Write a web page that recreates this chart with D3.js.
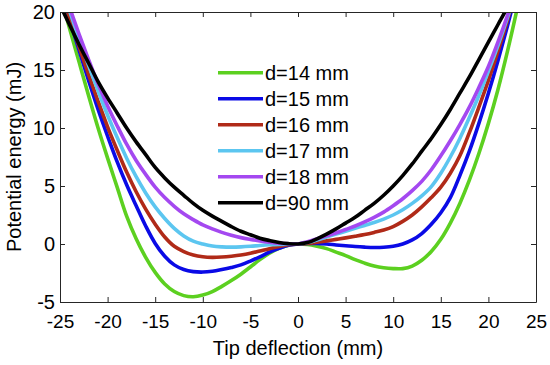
<!DOCTYPE html>
<html><head><meta charset="utf-8">
<script src="https://cdn.jsdelivr.net/npm/d3@7"></script>
<style>
body{margin:0;background:#fff}
svg{display:block}
text{font-family:"Liberation Sans",Arial,Helvetica,sans-serif;fill:#000}
</style>
</head><body>
<svg id="chart" width="550" height="365"></svg>
<script>
// ---------------- data ----------------
const deflection = [-25,-24,-23,-22,-21,-20,-19,-18,-17,-16,-15,-14,-13,-12,-11,-10,-9,-8,-7,-6,-5,-4,-3,-2,-1,0,
  1,2,3,4,5,6,7,8,9,10,11,12,13,14,15,16,17,18,19,20,21,22,23,24,25];

const seriesNames = ["d=14 mm","d=15 mm","d=16 mm","d=17 mm","d=18 mm","d=90 mm"];
const seriesColors = ["#5cd020","#0a0ae6","#b02a18","#5cc6f0","#a448f0","#000000"];

const energy_d14 = [21.6,18.6,15.7,12.8,10.0,7.4,4.9,2.4,0.45,-1.15,-2.45,-3.45,-4.1,-4.45,-4.55,-4.4,-4.1,-3.65,-3.15,-2.6,-1.98,-1.35,-0.8,-0.38,-0.1,0,
  -0.05,-0.2,-0.4,-0.7,-1.0,-1.35,-1.65,-1.9,-2.05,-2.12,-2.12,-1.9,-1.4,-0.65,0.4,1.8,3.5,5.5,7.8,10.4,13.3,16.6,20.2,24,28];
const energy_d15 = [22.2,19.4,16.7,14.1,11.6,9.3,7.1,5.1,3.3,1.55,0.05,-1.05,-1.8,-2.2,-2.38,-2.42,-2.35,-2.2,-2.02,-1.8,-1.47,-1.1,-0.7,-0.38,-0.1,0,
  0.05,0.05,0.0,-0.08,-0.15,-0.22,-0.27,-0.3,-0.28,-0.2,0.0,0.35,0.9,1.7,2.7,4.0,5.9,8.0,10.4,13.0,15.8,18.8,22,25.5,29];
const energy_d16 = [22,19.5,17.0,14.6,12.3,10.1,8.1,6.2,4.5,3.0,1.7,0.6,-0.2,-0.65,-0.95,-1.1,-1.15,-1.12,-1.05,-0.95,-0.8,-0.6,-0.4,-0.22,-0.06,0,
  0.05,0.15,0.27,0.4,0.53,0.67,0.82,1.0,1.2,1.5,1.95,2.5,3.2,4.0,4.9,6.1,7.6,9.6,11.8,14.1,16.6,19.3,22.2,25.3,28.6];
const energy_d17 = [22.6,20.1,17.7,15.4,13.2,11.1,9.2,7.4,5.8,4.4,3.2,2.2,1.35,0.7,0.25,0.0,-0.18,-0.25,-0.27,-0.25,-0.2,-0.13,-0.07,-0.03,-0.01,0,
  0.12,0.35,0.6,0.85,1.1,1.35,1.6,1.85,2.15,2.5,2.95,3.5,4.15,4.95,6.1,7.5,9.1,10.9,12.8,14.9,17.1,19.5,22.1,24.9,27.9];
const energy_d18 = [22.8,20.4,18.1,15.9,13.8,11.9,10.2,8.6,7.2,6.0,4.9,4.0,3.25,2.6,2.1,1.65,1.3,1.0,0.75,0.55,0.4,0.27,0.16,0.07,0.02,0,
  0.2,0.45,0.7,0.95,1.25,1.55,1.9,2.3,2.75,3.3,3.9,4.6,5.4,6.4,7.6,8.9,10.3,11.8,13.5,15.3,17.4,19.7,22.3,25,28];
const energy_d90 = [20.6,18.9,17.2,15.6,14.0,12.6,11.3,10.0,8.8,7.7,6.6,5.7,4.9,4.2,3.5,2.9,2.4,1.95,1.5,1.1,0.8,0.5,0.3,0.13,0.03,0,
  0.12,0.45,0.85,1.3,1.8,2.3,2.9,3.5,4.2,5.0,5.9,6.9,8.0,9.1,10.3,11.6,13.0,14.4,15.9,17.4,18.9,20.4,22,23.6,25.2];

const xTicks = [-25,-20,-15,-10,-5,0,5,10,15,20,25];
const yTicks = [-5,0,5,10,15,20];
const xTitle = "Tip deflection (mm)";
const yTitle = "Potential energy (mJ)";

const allSeries = [energy_d14, energy_d15, energy_d16, energy_d17, energy_d18, energy_d90];

// ---------------- layout ----------------
const svg = d3.select("#chart");
const L = 60, R = 536, T = 12, B = 302;
const x = d3.scaleLinear().domain([-25,25]).range([L,R]);
const y = d3.scaleLinear().domain([-5,20]).range([B,T]);
const axisColor = "#262626";

svg.append("defs").append("clipPath").attr("id","clip")
  .append("rect").attr("x",L).attr("y",T).attr("width",R-L).attr("height",B-T);

// curves
const line = d3.line()
  .x((d,i)=>x(deflection[i]))
  .y(d=>y(d))
  .curve(d3.curveCatmullRom.alpha(0.5));

const g = svg.append("g").attr("clip-path","url(#clip)");
allSeries.forEach((s,k)=>{
  g.append("path").attr("d",line(s))
    .attr("fill","none").attr("stroke",seriesColors[k])
    .attr("stroke-width",3.6).attr("stroke-linejoin","round").attr("stroke-linecap","round");
});

// axes
function styleAxis(sel, fs){
  sel.selectAll("path.domain").attr("stroke",axisColor).attr("stroke-width",1);
  sel.selectAll(".tick line").attr("stroke",axisColor).attr("stroke-width",1);
  sel.selectAll(".tick text").attr("font-size",fs).attr("fill","#000")
    .style("font-family",'"Liberation Sans",Arial,sans-serif');
}
const gx = svg.append("g").attr("transform",`translate(0,${B})`)
  .call(d3.axisBottom(x).tickValues(xTicks).tickSizeInner(-5).tickSizeOuter(0).tickPadding(13).tickFormat(d3.format("d")));
styleAxis(gx, 19);
const gy = svg.append("g").attr("transform",`translate(${L},0)`)
  .call(d3.axisLeft(y).tickValues(yTicks).tickSizeInner(-5).tickSizeOuter(0).tickPadding(5).tickFormat(d3.format("d")));
styleAxis(gy, 20);
const gt = svg.append("g").attr("transform",`translate(0,${T})`)
  .call(d3.axisTop(x).tickValues(xTicks).tickSizeInner(-5).tickSizeOuter(0).tickFormat(""));
styleAxis(gt, 19);
const gr = svg.append("g").attr("transform",`translate(${R},0)`)
  .call(d3.axisRight(y).tickValues(yTicks).tickSizeInner(-5).tickSizeOuter(0).tickFormat(""));
styleAxis(gr, 19);
// minus signs as hyphen
svg.selectAll(".tick text").text(function(){return this.textContent.replace("\u2212","-");});

// titles
svg.append("text").attr("x",(L+R)/2).attr("y",355).attr("text-anchor","middle")
  .attr("font-size",20).text(xTitle);
svg.append("text").attr("transform",`translate(21,${(T+B)/2}) rotate(-90)`)
  .attr("text-anchor","middle").attr("font-size",20).text(yTitle);

// legend
const lg = svg.append("g");
seriesNames.forEach((name,k)=>{
  const yy = 72.7 + k*26;
  lg.append("line").attr("x1",218).attr("x2",263).attr("y1",yy).attr("y2",yy)
    .attr("stroke",seriesColors[k]).attr("stroke-width",3.6);
  lg.append("text").attr("x",265).attr("y",yy).attr("dy","0.36em")
    .attr("font-size",20).text(name);
});
</script>
</body></html>
